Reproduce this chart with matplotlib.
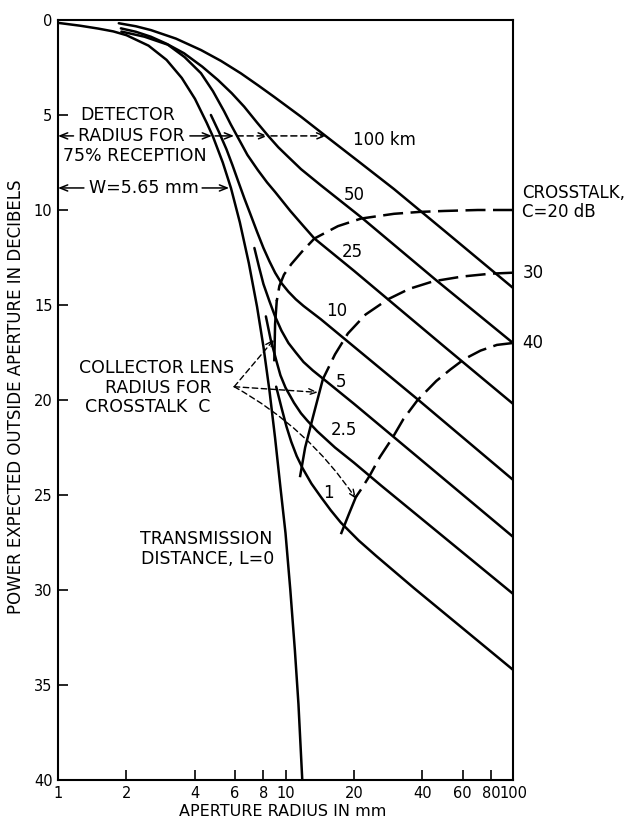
import matplotlib
matplotlib.use("Agg")
import matplotlib.pyplot as plt
from matplotlib.ticker import NullLocator

# Power expected outside the aperture (dB) against aperture radius (mm),
# one curve per transmission distance L.
R_L0 = [1.0, 1.25, 1.5, 1.75, 2.0, 2.5, 3.0, 3.5, 4.0, 4.5, 4.8, 5.3, 5.76, 6.3,
        6.9, 7.5, 8.0, 8.5, 9.0, 9.5, 10.0, 10.5, 11.0, 11.4, 11.85]
DB_L0 = [0.15, 0.3, 0.45, 0.6, 0.8, 1.35, 2.1, 3.05, 4.15, 5.4, 6.14, 7.5, 8.85, 10.65,
         12.8, 15.1, 17.2, 19.5, 22.0, 24.6, 27.0, 30.0, 33.2, 36.0, 40.0]

R_100 = [1.85, 2.2, 2.56, 3.3, 4.25, 5.2, 6.37, 7.6, 8.9, 11.7, 15.0, 21.5, 30.0, 50.0, 100.0]
DB_100 = [0.17, 0.33, 0.53, 0.98, 1.58, 2.15, 2.81, 3.45, 4.04, 5.09, 6.1, 7.55, 8.9, 11.1, 14.1]

R_50 = [1.89, 2.2, 2.56, 3.0, 3.58, 4.3, 5.05, 5.8, 6.58, 7.5, 8.45, 9.3, 10.25, 11.7,
        14.3, 21.6, 46.0, 100.0]
DB_50 = [0.44, 0.62, 0.88, 1.25, 1.75, 2.45, 3.16, 3.85, 4.56, 5.4, 6.14, 6.7, 7.19, 7.85,
         8.7, 10.4, 13.7, 17.0]

R_25 = [1.9, 2.4, 3.04, 3.6, 4.25, 4.8, 5.37, 5.75, 6.15, 6.8, 7.56, 8.3, 9.0, 10.5,
        12.0, 13.4, 20.0, 28.2, 50.0, 100.0]
DB_25 = [0.61, 0.88, 1.3, 1.95, 2.8, 3.75, 4.8, 5.5, 6.14, 7.1, 7.9, 8.55, 9.05, 10.05,
         10.85, 11.5, 13.2, 14.7, 17.2, 20.2]

R_10 = [4.7, 5.1, 5.5, 5.85, 6.2, 6.6, 7.0, 7.5, 8.0, 8.5, 9.0, 9.6, 10.3, 11.1, 12.0,
        14.3, 18.9, 38.4, 100.0]
DB_10 = [5.0, 5.9, 6.8, 7.65, 8.5, 9.4, 10.2, 11.15, 12.0, 12.7, 13.3, 13.85, 14.3, 14.7,
         15.05, 15.75, 16.95, 20.0, 24.2]

R_5 = [7.3, 7.65, 8.0, 8.5, 9.0, 9.6, 10.3, 11.1, 12.0, 13.2, 14.7, 20.0, 38.1, 100.0]
DB_5 = [12.0, 13.0, 13.9, 14.8, 15.6, 16.35, 17.0, 17.5, 18.0, 18.45, 18.9, 20.2, 23.0, 27.2]

R_2P5 = [8.2, 8.6, 9.1, 9.5, 10.0, 10.9, 11.7, 12.5, 13.8, 16.5, 20.0, 26.3, 100.0]
DB_2P5 = [15.6, 16.8, 17.9, 18.7, 19.35, 20.15, 20.7, 21.1, 21.65, 22.5, 23.3, 24.5, 30.2]

R_1 = [9.1, 9.6, 10.1, 10.6, 11.2, 11.9, 13.0, 14.3, 15.8, 17.5, 21.0, 25.0, 36.7, 100.0]
DB_1 = [19.3, 20.4, 21.4, 22.2, 22.95, 23.6, 24.4, 25.1, 25.8, 26.45, 27.4, 28.2, 29.9, 34.2]

DISTANCE_LABELS = ["100 km", "50", "25", "10", "5", "2.5", "1"]

# Crosstalk contours C = 20, 30, 40 dB (dashed part, then the solid
# collector-lens part).
C20_DASH_R = [100, 70, 50, 38.9, 30, 21.5, 17, 13.4, 11.8, 10.6, 9.85, 9.4, 9.15]
C20_DASH_DB = [10.0, 10.0, 10.05, 10.1, 10.2, 10.45, 10.85, 11.5, 12.2, 12.85, 13.4, 14.0, 14.8]
C20_SOLID_R = [9.15, 9.0, 8.93]
C20_SOLID_DB = [14.8, 16.0, 17.9]

C30_DASH_R = [100, 80, 60, 44.7, 35, 28.2, 22.5, 18.8, 16.5, 14.6]
C30_DASH_DB = [13.3, 13.35, 13.5, 13.75, 14.15, 14.7, 15.5, 16.5, 17.6, 18.9]
C30_SOLID_R = [14.6, 13.2, 12.2, 11.6]
C30_SOLID_DB = [18.9, 20.9, 22.5, 24.0]

C40_DASH_R = [100, 85, 72, 61, 53, 46, 38.1, 33, 29.5, 26, 23.4, 21.5, 20.4]
C40_DASH_DB = [17.0, 17.1, 17.4, 17.85, 18.4, 19.0, 20.0, 21.0, 22.0, 23.0, 24.0, 24.7, 25.1]
C40_SOLID_R = [20.4, 19.0, 17.6]
C40_SOLID_DB = [25.1, 26.0, 27.0]

CROSSTALK_LABELS = ["30", "40"]

X_TICKS = [1, 2, 4, 6, 8, 10, 20, 40, 60, 80, 100]
Y_TICKS = [0, 5, 10, 15, 20, 25, 30, 35, 40]
W_MM = 5.65

FS = 12
FS_BLOCK = 12.5
LW = 1.8
HEAD = "->,head_length=0.55,head_width=0.22"


def arrow(ax, start, end, ls="-", lw=1.1, rad=0.0):
    ax.annotate("", xy=end, xytext=start,
                arrowprops=dict(arrowstyle=HEAD, lw=lw, ls=ls, color="k",
                                shrinkA=0, shrinkB=0,
                                connectionstyle=f"arc3,rad={rad}"))


fig = plt.figure(figsize=(6.32, 8.19), dpi=100)
ax = fig.add_axes([58 / 632, 39 / 819, 455 / 632, 760 / 819])
ax.set_xscale("log")
ax.set_xlim(1, 100)
ax.set_ylim(40, 0)

curves = [(R_100, DB_100), (R_50, DB_50), (R_25, DB_25), (R_10, DB_10),
          (R_5, DB_5), (R_2P5, DB_2P5), (R_1, DB_1), (R_L0, DB_L0)]
for r, db in curves:
    ax.plot(r, db, color="k", lw=LW, solid_capstyle="round", solid_joinstyle="round")

dash = (0, (8, 3))
for r, db in [(C20_DASH_R, C20_DASH_DB), (C30_DASH_R, C30_DASH_DB),
              (C40_DASH_R, C40_DASH_DB)]:
    ax.plot(r, db, color="k", lw=LW, ls=dash)
for r, db in [(C20_SOLID_R, C20_SOLID_DB), (C30_SOLID_R, C30_SOLID_DB),
              (C40_SOLID_R, C40_SOLID_DB)]:
    ax.plot(r, db, color="k", lw=LW)

# distance labels next to each curve
label_pos = [(27.1, 6.3), (20.0, 9.2), (19.6, 12.2), (16.8, 15.3),
             (17.6, 19.05), (18.1, 21.6), (15.4, 24.9)]
for text, (x, y) in zip(DISTANCE_LABELS, label_pos):
    ax.text(x, y, text, fontsize=FS, ha="center", va="center")

# crosstalk labels beyond the right edge
ax.text(110, 9.1, "CROSSTALK,", fontsize=FS, ha="left", va="center")
ax.text(110, 10.1, "C=20 dB", fontsize=FS, ha="left", va="center")
ax.text(110, 13.3, CROSSTALK_LABELS[0], fontsize=FS, ha="left", va="center")
ax.text(110, 17.0, CROSSTALK_LABELS[1], fontsize=FS, ha="left", va="center")

# detector radius for 75% reception
y_det = 6.1
ax.text(2.03, 5.0, "DETECTOR", fontsize=FS_BLOCK, ha="center", va="center")
ax.text(2.11, y_det, "RADIUS FOR", fontsize=FS_BLOCK, ha="center", va="center")
ax.text(2.18, 7.15, "75% RECEPTION", fontsize=FS_BLOCK, ha="center", va="center")
arrow(ax, (1.17, y_det), (1.0, y_det))
arrow(ax, (3.8, y_det), (4.75, y_det))
arrow(ax, (4.9, y_det), (5.94, y_det))
arrow(ax, (6.13, y_det), (8.36, y_det), ls=(0, (4, 2.5)))
arrow(ax, (8.63, y_det), (15.1, y_det), ls=(0, (4, 2.5)))

# Gaussian beam radius
y_w = 8.84
ax.text(2.39, y_w, "W=5.65 mm", fontsize=FS_BLOCK, ha="center", va="center")
arrow(ax, (1.3, y_w), (1.0, y_w))
arrow(ax, (4.3, y_w), (W_MM, y_w))

# collector lens radius
ax.text(2.70, 18.3, "COLLECTOR LENS", fontsize=FS_BLOCK, ha="center", va="center")
ax.text(2.75, 19.35, "RADIUS FOR", fontsize=FS_BLOCK, ha="center", va="center")
ax.text(2.49, 20.35, "CROSSTALK  C", fontsize=FS_BLOCK, ha="center", va="center")
origin = (5.95, 19.3)
arrow(ax, origin, (8.93, 16.8), ls=(0, (4, 2.5)), lw=1.0)
arrow(ax, origin, (13.9, 19.6), ls=(0, (4, 2.5)), lw=1.0)
arrow(ax, origin, (20.4, 25.2), ls=(0, (4, 2.5)), lw=1.0, rad=-0.12)

ax.text(4.47, 27.3, "TRANSMISSION", fontsize=FS_BLOCK, ha="center", va="center")
ax.text(4.56, 28.35, "DISTANCE, L=0", fontsize=FS_BLOCK, ha="center", va="center")

# axes styling
ax.set_xticks(X_TICKS)
ax.set_xticklabels([str(t) for t in X_TICKS])
ax.xaxis.set_minor_locator(NullLocator())
ax.set_yticks(Y_TICKS)
ax.set_yticklabels([str(t) for t in Y_TICKS])
ax.tick_params(direction="in", length=7, width=1.2, labelsize=10.5, pad=4)
for s in ax.spines.values():
    s.set_linewidth(1.5)

fig.text(283 / 632, 1 - 811 / 819, "APERTURE RADIUS IN mm", fontsize=11.5,
         ha="center", va="center")
fig.text(16 / 632, 1 - 397 / 819, "POWER EXPECTED OUTSIDE APERTURE IN DECIBELS",
         fontsize=12, rotation=90, ha="center", va="center")

fig.savefig("out.png", dpi=100, facecolor="white")
